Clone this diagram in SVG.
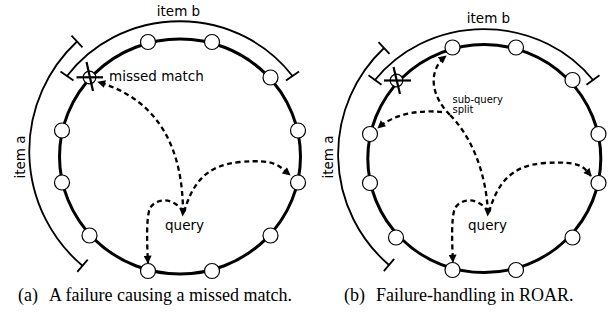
<svg xmlns="http://www.w3.org/2000/svg" width="608" height="320" viewBox="0 0 608 320">
<style>
.ring{fill:none;stroke:#000;stroke-width:3}
.arc{fill:none;stroke:#000;stroke-width:1.8}
.tick{stroke:#000;stroke-width:1.8}
.node{fill:#fff;stroke:#000;stroke-width:1.2}
.cross{stroke:#000;stroke-width:2.2}
.dash{fill:none;stroke:#000;stroke-width:2.3;stroke-dasharray:5 3.5;marker-end:url(#ah)}
.dash2{fill:none;stroke:#000;stroke-width:2.3;stroke-dasharray:5 3.5}
.lbl{font-family:"DejaVu Sans",sans-serif;font-size:13.5px;fill:#000}
.small{font-family:"DejaVu Sans",sans-serif;font-size:10px;fill:#000}
.cap{font-family:"Liberation Serif",serif;font-size:18px;fill:#000}
</style>
<defs>
<marker id="ah" viewBox="0 0 10 10" refX="9" refY="5" markerUnits="userSpaceOnUse" markerWidth="9" markerHeight="8" orient="auto">
<path d="M0,0 L10,5 L0,10 z" fill="#000"/>
</marker>
</defs>

<!-- Left panel -->
<g id="ring-a">
<ellipse class="ring" cx="180" cy="156.5" rx="120.5" ry="117.5"/>
<path class="arc" d="M77,41.5 A150,150 0 0 0 82.5,265.8"/>
<line class="tick" x1="71.5" y1="35.6" x2="82.5" y2="47.4"/>
<line class="tick" x1="77.3" y1="271.9" x2="87.7" y2="259.7"/>
<path class="arc" d="M67,76 A140,134.5 0 0 1 292.5,76"/>
<line class="tick" x1="60.5" y1="71.4" x2="73.5" y2="80.6"/>
<line class="tick" x1="286" y1="80.6" x2="299" y2="71.4"/>
<text class="lbl" x="178.5" y="15.5" text-anchor="middle">item b</text>
<text class="lbl" transform="translate(25,157) rotate(-90)" text-anchor="middle">item a</text>
</g>
<g id="a-n1"><circle class="node" cx="148" cy="42" r="7.5"/></g>
<g id="a-n2"><circle class="node" cx="212" cy="42" r="7.5"/></g>
<g id="a-n3"><circle class="node" cx="270.5" cy="77.5" r="7.5"/></g>
<g id="a-n4"><circle class="node" cx="298" cy="130.5" r="7.5"/></g>
<g id="a-n5"><circle class="node" cx="298" cy="182.5" r="7.5"/></g>
<g id="a-n6"><circle class="node" cx="270.5" cy="235.5" r="7.5"/></g>
<g id="a-n7"><circle class="node" cx="212" cy="271" r="7.5"/></g>
<g id="a-n8"><circle class="node" cx="148" cy="271" r="7.5"/></g>
<g id="a-n9"><circle class="node" cx="89.5" cy="235.5" r="7.5"/></g>
<g id="a-n10"><circle class="node" cx="62" cy="182.5" r="7.5"/></g>
<g id="a-n11"><circle class="node" cx="62" cy="130.5" r="7.5"/></g>
<g id="a-failed">
<circle class="node" cx="89.5" cy="77.5" r="6.3"/>
<line class="cross" x1="76.5" y1="77.3" x2="103" y2="77.3"/>
<line class="cross" x1="86.5" y1="62" x2="93" y2="91"/>
<text class="lbl" x="109" y="80.5">missed match</text>
</g>
<g id="a-query">
<polygon points="179.5,208.5 186.5,209.5 182.6,216.5" fill="#000"/>
<text class="lbl" x="165" y="230">query</text>
</g>
<g id="a-connectors">
<path class="dash" d="M183,213 C183,150 160,100 98,82"/>
<path class="dash" d="M184,212 C192,185 205,165 240,162 S278,165 290,175"/>
<path class="dash" d="M183,212 C176,199 158,196 150,208 C146,218 147,245 148,263"/>
</g>

<!-- Right panel -->
<g id="ring-b">
<ellipse class="ring" cx="484.3" cy="158.6" rx="116.5" ry="114"/>
<path class="arc" d="M384,48 A146,146 0 0 0 389,265"/>
<line class="tick" x1="378.5" y1="42.2" x2="389.5" y2="53.8"/>
<line class="tick" x1="383.8" y1="271.1" x2="394.2" y2="258.9"/>
<path class="arc" d="M375,80 A137,129 0 0 1 593,80"/>
<line class="tick" x1="368.5" y1="75.3" x2="381.5" y2="84.7"/>
<line class="tick" x1="586.5" y1="84.7" x2="599.5" y2="75.3"/>
<text class="lbl" x="488.5" y="22.5" text-anchor="middle">item b</text>
<text class="lbl" transform="translate(333,157) rotate(-90)" text-anchor="middle">item a</text>
</g>
<g id="b-n1"><circle class="node" cx="452.5" cy="47.5" r="7.5"/></g>
<g id="b-n2"><circle class="node" cx="516" cy="47.5" r="7.5"/></g>
<g id="b-n3"><circle class="node" cx="572.5" cy="80" r="7.5"/></g>
<g id="b-n4"><circle class="node" cx="598.5" cy="134" r="7.5"/></g>
<g id="b-n5"><circle class="node" cx="598.5" cy="183" r="7.5"/></g>
<g id="b-n6"><circle class="node" cx="572.5" cy="237.5" r="7.5"/></g>
<g id="b-n7"><circle class="node" cx="516" cy="270" r="7.5"/></g>
<g id="b-n8"><circle class="node" cx="452.5" cy="270" r="7.5"/></g>
<g id="b-n9"><circle class="node" cx="396" cy="237.5" r="7.5"/></g>
<g id="b-n10"><circle class="node" cx="370" cy="183" r="7.5"/></g>
<g id="b-n11"><circle class="node" cx="370" cy="134" r="7.5"/></g>
<g id="b-failed">
<circle class="node" cx="396.5" cy="80.5" r="6.3"/>
<line class="cross" x1="384" y1="80.5" x2="411" y2="80.5"/>
<line class="cross" x1="393.5" y1="67" x2="400" y2="94"/>
</g>
<g id="b-query">
<polygon points="484.5,208.5 491.5,209.5 487.6,216.5" fill="#000"/>
<text class="lbl" x="468" y="230">query</text>
<text class="small" x="452.5" y="102.5">sub-query</text>
<text class="small" x="452.5" y="113">split</text>
</g>
<g id="b-connectors">
<path class="dash2" d="M488,213 C486,170 470,135 450,115"/>
<path class="dash" d="M450,115 C430,95 428,70 446,56"/>
<path class="dash" d="M442,112 C420,110 395,113 378,128"/>
<path class="dash" d="M489,212 C497,185 510,165 545,163 S583,166 591,176"/>
<path class="dash" d="M488,212 C481,199 463,196 455,208 C451,218 452,244 453,262"/>
</g>

<g id="captions">
<text class="cap" x="18" y="301">(a)</text>
<text class="cap" x="49" y="301">A failure causing a missed match.</text>
<text class="cap" x="344" y="301">(b)</text>
<text class="cap" x="376" y="301">Failure-handling in ROAR.</text>
</g>
</svg>
